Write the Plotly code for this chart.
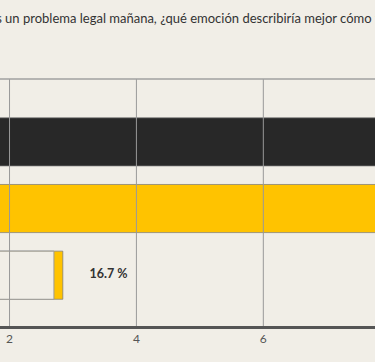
import plotly.graph_objects as go

# ---- data ----
categories = ["Ansiedad", "Preocupación", "Tranquilidad"]
bar_values = [10.0, 10.0, 2.84]
bar_colors = ["#282828", "#ffc300", "#ffc300"]
outline_values = [None, None, 2.70]
pct_labels = ["41.7 %", "41.7 %", "16.7 %"]
tick_vals = [0, 2, 4, 6, 8, 10]
tick_text = ["0", "2", "4", "6", "8", "10"]
title_text = "Si tuvieras un problema legal mañana, ¿qué emoción describiría mejor cómo te sentirías?"

BG = "#f1eee7"
W, H = 375, 362
M_T, M_B = 79.3, 36.3
X_RANGE = [1.85, 7.76]
FONT = "Lato, 'Open Sans', sans-serif"

label_x = [v + 0.42 for v in bar_values]
shown_labels = [t if X_RANGE[0] <= x <= X_RANGE[1] else "" for t, x in zip(pct_labels, label_x)]

fig = go.Figure()
fig.add_trace(go.Bar(
    y=categories, x=bar_values, orientation="h",
    marker=dict(color=bar_colors, line=dict(color="rgba(120,120,120,0.7)", width=1)),
    showlegend=False, hoverinfo="skip",
))
fig.add_trace(go.Bar(
    y=categories, x=outline_values, orientation="h",
    marker=dict(color=BG, line=dict(color="#9a9a9a", width=1)),
    showlegend=False, hoverinfo="skip",
))
fig.add_trace(go.Scatter(
    y=categories, x=label_x, mode="text",
    text=shown_labels, textposition="middle right",
    textfont=dict(family=FONT, size=12.5, color="#333333", weight="bold"),
    showlegend=False, hoverinfo="skip", cliponaxis=True,
))

shapes = []
for tv in tick_vals:
    shapes.append(dict(type="line", xref="x", yref="paper", x0=tv, x1=tv, y0=0, y1=1,
                       line=dict(color="#999999", width=1), layer="above"))
shapes.append(dict(type="line", xref="paper", yref="paper", x0=0, x1=1, y0=1, y1=1,
                   line=dict(color="#a0a0a0", width=1.5), layer="above"))

fig.update_layout(
    width=W, height=H,
    margin=dict(l=0, r=0, t=M_T, b=M_B, pad=0),
    paper_bgcolor=BG, plot_bgcolor=BG,
    barmode="overlay", bargap=0.278,
    shapes=shapes,
    font=dict(family=FONT, color="#555555"),
    annotations=[dict(
        text=title_text, xref="paper", yref="paper", x=-0.157, y=1.248,
        xanchor="left", yanchor="middle", showarrow=False,
        font=dict(family=FONT, size=13, color="#333333"),
    )],
)
fig.update_xaxes(
    range=X_RANGE, tickvals=tick_vals, ticktext=tick_text,
    showgrid=False, zeroline=False, showline=True, linecolor="#555555", linewidth=2.5,
    ticks="", tickfont=dict(size=12, color="#555555"),
)
fig.update_yaxes(
    range=[2.762, -0.943], showgrid=False, zeroline=False, showticklabels=False, ticks="",
)

fig.write_html(
    "out.html",
    config={"displayModeBar": False},
    post_script="document.body.style.margin='0';document.body.style.padding='0';"
                "document.body.style.background='" + BG + "';"
                "document.documentElement.style.overflow='hidden';",
)
